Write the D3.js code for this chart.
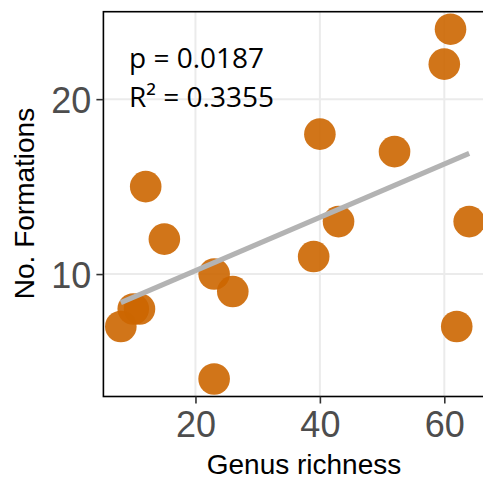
<!DOCTYPE html>
<html>
<head>
<meta charset="utf-8">
<script src="https://cdn.jsdelivr.net/npm/d3@7"></script>
<style>
  body { margin: 0; background: #fff; }
  svg { display: block; }
</style>
</head>
<body>
<div id="chart"></div>
<script>
// genus richness vs number of formations
var genus = [61, 60, 40, 52, 12, 15, 43, 64, 39, 23, 26, 11, 10, 8, 62, 23];
var formations = [24, 22, 18, 17, 15, 12, 13, 13, 11, 10, 9, 8, 8, 7, 7, 4];
var xTicks = [20, 40, 60];
var yTicks = [10, 20];
var statLines = ["p = 0.0187", "R\u00b2 = 0.3355"];

var W = 483, H = 480;
var pLeft = 103.4, pRight = 486.6, pTop = 11.7, pBottom = 396.5;

var svg = d3.select("#chart").append("svg")
    .attr("width", W)
    .attr("height", H);

var x = d3.scaleLinear().domain([5.2, 66.8]).range([pLeft, pRight]);
var y = d3.scaleLinear().domain([3, 25]).range([pBottom, pTop]);

// grid
svg.append("g").selectAll("line")
    .data(xTicks).join("line")
    .attr("x1", d => x(d)).attr("x2", d => x(d))
    .attr("y1", pTop).attr("y2", pBottom)
    .attr("stroke", "#ebebeb").attr("stroke-width", 2);
svg.append("g").selectAll("line")
    .data(yTicks).join("line")
    .attr("x1", pLeft).attr("x2", pRight)
    .attr("y1", d => y(d)).attr("y2", d => y(d))
    .attr("stroke", "#ebebeb").attr("stroke-width", 2);

// points
var pts = genus.map((g, i) => ({ x: g, y: formations[i] }));
svg.append("g").selectAll("circle")
    .data(pts).join("circle")
    .attr("cx", d => x(d.x))
    .attr("cy", d => y(d.y))
    .attr("r", 15.8)
    .attr("fill", "#cc6600")
    .attr("fill-opacity", 0.9);

// least squares fit
var mx = d3.mean(genus), my = d3.mean(formations);
var sxy = d3.sum(genus.map((g, i) => (g - mx) * (formations[i] - my)));
var sxx = d3.sum(genus.map(g => (g - mx) * (g - mx)));
var slope = sxy / sxx, icpt = my - slope * mx;
var xr = d3.extent(genus);
svg.append("line")
    .attr("x1", x(xr[0])).attr("y1", y(icpt + slope * xr[0]))
    .attr("x2", x(xr[1])).attr("y2", y(icpt + slope * xr[1]))
    .attr("stroke", "#b3b3b3")
    .attr("stroke-width", 5);

// panel border
svg.append("rect")
    .attr("x", pLeft).attr("y", pTop)
    .attr("width", pRight - pLeft).attr("height", pBottom - pTop)
    .attr("fill", "none").attr("stroke", "#000").attr("stroke-width", 1.6);

// axes
var xAxis = svg.append("g")
    .attr("transform", "translate(0," + pBottom + ")")
    .call(d3.axisBottom(x).tickValues(xTicks).tickSize(7).tickPadding(5));
var yAxis = svg.append("g")
    .attr("transform", "translate(" + pLeft + ",0)")
    .call(d3.axisLeft(y).tickValues(yTicks).tickSize(7).tickPadding(5));
[xAxis, yAxis].forEach(a => {
    a.select(".domain").remove();
    a.selectAll(".tick line").attr("stroke", "#333").attr("stroke-width", 1.6);
    a.selectAll(".tick text")
        .attr("fill", "#4d4d4d")
        .style("font-family", "'Liberation Sans', Arial, sans-serif")
        .style("font-size", "36px");
});
xAxis.selectAll(".tick text").attr("dy", "0").attr("y", 40);
yAxis.selectAll(".tick text").attr("dy", "0.36em");

// titles
svg.append("text")
    .attr("x", 304).attr("y", 474)
    .attr("text-anchor", "middle")
    .style("font-family", "'Liberation Sans', Arial, sans-serif")
    .style("font-size", "28px")
    .text("Genus richness");
svg.append("text")
    .attr("transform", "translate(34,203.5) rotate(-90)")
    .attr("text-anchor", "middle")
    .style("font-family", "'Liberation Sans', Arial, sans-serif")
    .style("font-size", "28px")
    .text("No. Formations");

// stats annotation
svg.append("g").selectAll("text")
    .data(statLines).join("text")
    .attr("x", 129)
    .attr("y", (d, i) => 68 + i * 39)
    .style("font-family", "'Open Sans', sans-serif")
    .style("font-size", "28px")
    .attr("fill", "#000")
    .text(d => d);
</script>
</body>
</html>
